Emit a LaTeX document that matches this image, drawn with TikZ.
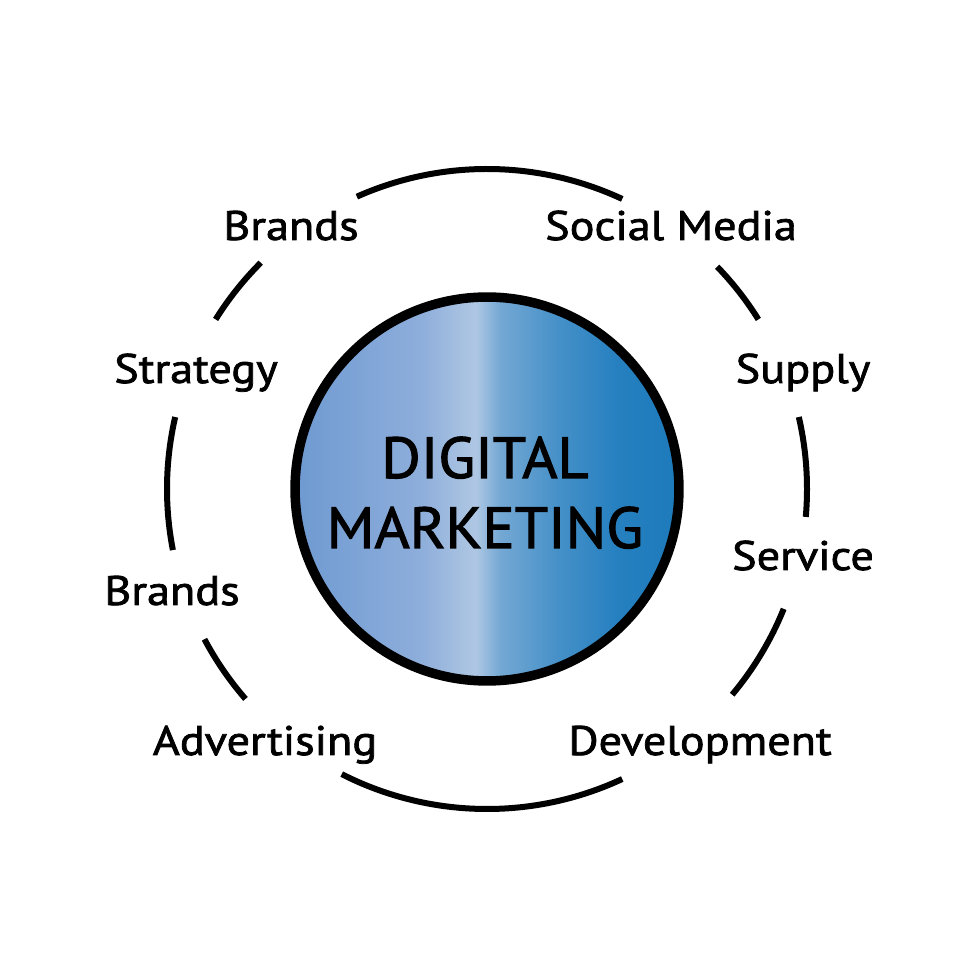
\documentclass[tikz,border=0pt]{standalone}
\usepackage{fontspec}
\setmainfont{PT Sans}
\newfontfamily\lblfont{PT Sans}[FakeStretch=1.12, FakeBold=1.8]
\newfontfamily\hubfont{PT Sans}[FakeStretch=1.04, FakeBold=1.8]
\definecolor{cA}{HTML}{6E9AD1}
\definecolor{cB}{HTML}{8EAEDB}
\definecolor{cC}{HTML}{AFC7E3}
\definecolor{cD}{HTML}{74A8D4}
\definecolor{cE}{HTML}{4590C8}
\definecolor{cF}{HTML}{2680C0}
\definecolor{cG}{HTML}{1D7ABB}
\pgfdeclarehorizontalshading{dmshade}{100bp}{color(0bp)=(cA); color(25bp)=(cA); color(41.5bp)=(cB); color(48.5bp)=(cC); color(51.7bp)=(cD); color(59.3bp)=(cE); color(67bp)=(cF); color(75bp)=(cG); color(100bp)=(cG)}
\tikzset{
  ringarc/.style={draw=black, line width=0.12cm},
  hub/.style={circle, draw=black, line width=0.19cm, minimum size=7.68cm, inner sep=0pt, shading=dmshade},
  hubtext/.style={align=center, anchor=base, font=\hubfont\fontsize{33}{39.8}\selectfont, text=black},
  lbl/.style={anchor=base, font=\lblfont\fontsize{23.5}{28}\selectfont, text=black, inner sep=0pt}
}
\begin{document}
\begin{tikzpicture}[x=0.02cm,y=0.02cm]
\useasboundingbox (0,0) rectangle (980,980);
\fill[white] (0,0) rectangle (980,980);
\coordinate (O) at (487,491);
% ring arcs
\draw[ringarc] ([shift={(65:320)}]O) arc[start angle=65, end angle=114, radius=320];
\draw[ringarc] ([shift={(32:320)}]O) arc[start angle=32, end angle=44, radius=320];
\draw[ringarc] ([shift={(-5:320)}]O) arc[start angle=-5, end angle=13, radius=320];
\draw[ringarc] ([shift={(-40:320)}]O) arc[start angle=-40, end angle=-22, radius=320];
\draw[ringarc] ([shift={(-117:320)}]O) arc[start angle=-117, end angle=-65, radius=320];
\draw[ringarc] ([shift={(208:320)}]O) arc[start angle=208, end angle=221, radius=320];
\draw[ringarc] ([shift={(167:320)}]O) arc[start angle=167, end angle=191, radius=320];
\draw[ringarc] ([shift={(135:320)}]O) arc[start angle=135, end angle=148, radius=320];
% hub
\node[hub] (hub) at (O) {};
\node[hubtext] (t1) at (485,502) {DIGITAL};
\node[hubtext] (t2) at (485,432) {MARKETING};
% labels
\node[lbl] (brandsT) at (291,740) {Brands};
\node[lbl] (social) at (671,740) {Social Media};
\node[lbl] (strategy) at (196,597) {Strategy};
\node[lbl] (supply) at (803,597) {Supply};
\node[lbl] (service) at (803,410) {Service};
\node[lbl] (brandsL) at (172,375) {Brands};
\node[lbl] (advert) at (265,225) {Advertising};
\node[lbl] (devel) at (700,225) {Development};
\end{tikzpicture}
\end{document}
